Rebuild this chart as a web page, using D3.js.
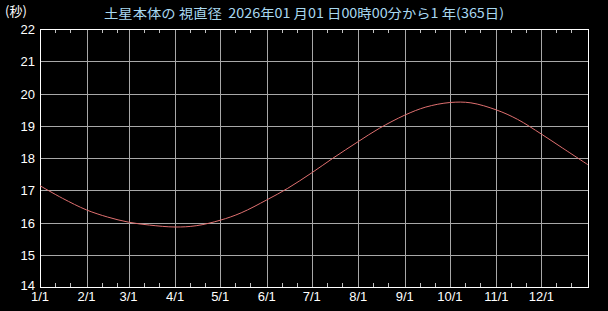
<!DOCTYPE html>
<html><head><meta charset="utf-8">
<script src="https://cdn.jsdelivr.net/npm/d3@7"></script>
<style>
html,body{margin:0;padding:0;background:#000;}
svg{display:block;}
text{font-family:"Liberation Sans","DejaVu Sans",sans-serif;white-space:pre;}
</style></head>
<body><svg id="c" width="608" height="311"></svg>
<script>
const titleText = "土星本体の 視直径  2026年01 月01 日00時00分から1 年(365日)";
const unitLabel = "(秒)";
const dates = ["2026-01-01","2026-01-16","2026-02-01","2026-02-15","2026-03-01","2026-03-15","2026-04-01","2026-04-15","2026-05-01","2026-05-15","2026-06-01","2026-06-15","2026-07-01","2026-07-15","2026-08-01","2026-08-15","2026-09-01","2026-09-15","2026-10-01","2026-10-15","2026-11-01","2026-11-15","2026-12-01","2026-12-15","2027-01-01"];
const diameters = [17.14,16.75,16.39,16.17,16.01,15.92,15.86,15.90,16.07,16.30,16.70,17.06,17.54,17.99,18.51,18.92,19.33,19.58,19.72,19.71,19.49,19.20,18.74,18.31,17.79];
const yTicks = [14,15,16,17,18,19,20,21,22];
const xTickLabels = ["1/1","2/1","3/1","4/1","5/1","6/1","7/1","8/1","9/1","10/1","11/1","12/1"];

const svg = d3.select("#c");
const L=40, R=588, T=29, B=287;
const parse = d3.utcParse("%Y-%m-%d");
const x = d3.scaleUtc().domain([parse("2026-01-01"), parse("2027-01-01")]).range([L,R]);
const y = d3.scaleLinear().domain([14,22]).range([B,T]);

svg.append("rect").attr("width",608).attr("height",311).attr("fill","#000");

const months = d3.utcMonth.range(parse("2026-01-01"), parse("2027-01-01"));
const grid = svg.append("g").attr("stroke","#a8a8a8").attr("stroke-width",1).attr("shape-rendering","crispEdges");
months.slice(1).forEach(m=>{
  const px = Math.round(x(m))+0.5;
  grid.append("line").attr("x1",px).attr("x2",px).attr("y1",T).attr("y2",B);
});
yTicks.slice(1,-1).forEach(v=>{
  const py = Math.round(y(v))+0.5;
  grid.append("line").attr("x1",L).attr("x2",R).attr("y1",py).attr("y2",py);
});

// minor ticks on 11th and 21st
const minor = svg.append("g").attr("stroke","#c0c0c0").attr("shape-rendering","crispEdges");
months.forEach(m=>{
  [10,20].forEach(d=>{
    const px = Math.round(x(d3.utcDay.offset(m,d)))+0.5;
    minor.append("line").attr("x1",px).attr("x2",px).attr("y1",T).attr("y2",T+4);
    minor.append("line").attr("x1",px).attr("x2",px).attr("y1",B-4).attr("y2",B);
  });
});

// frame
svg.append("rect").attr("x",L+0.5).attr("y",T+0.5).attr("width",R-L).attr("height",B-T)
  .attr("fill","none").attr("stroke","#ffffff").attr("shape-rendering","crispEdges");

// curve
const data = dates.map((d,i)=>({d:parse(d), v:diameters[i]}));
svg.append("path").datum(data)
  .attr("d", d3.line().x(p=>x(p.d)).y(p=>y(p.v)).curve(d3.curveCatmullRom.alpha(0.5)))
  .attr("fill","none").attr("stroke","#e07070").attr("stroke-width",1);

// y labels
svg.append("g").selectAll("text").data(yTicks).join("text")
  .attr("x",35).attr("y",v=>y(v)+ (v===14?3:5)).attr("text-anchor","end")
  .attr("fill","#ffffff").attr("font-size",13).text(v=>v);

// x labels
svg.append("g").selectAll("text").data(months).join("text")
  .attr("x",m=>x(m)).attr("y",301).attr("text-anchor","middle")
  .attr("fill","#ffffff").attr("font-size",13).text((m,i)=>xTickLabels[i]);

svg.append("text").attr("x",5).attr("y",16).attr("fill","#ffffff")
  .attr("font-size",13).style("font-family","'Noto Sans CJK JP',sans-serif").text(unitLabel);
svg.append("text").attr("x",104).attr("y",18).attr("fill","#a8d8f0")
  .attr("font-size",13).style("font-family","'Noto Sans CJK JP',sans-serif")
  .attr("textLength",400).attr("lengthAdjust","spacingAndGlyphs").text(titleText);
</script></body></html>
